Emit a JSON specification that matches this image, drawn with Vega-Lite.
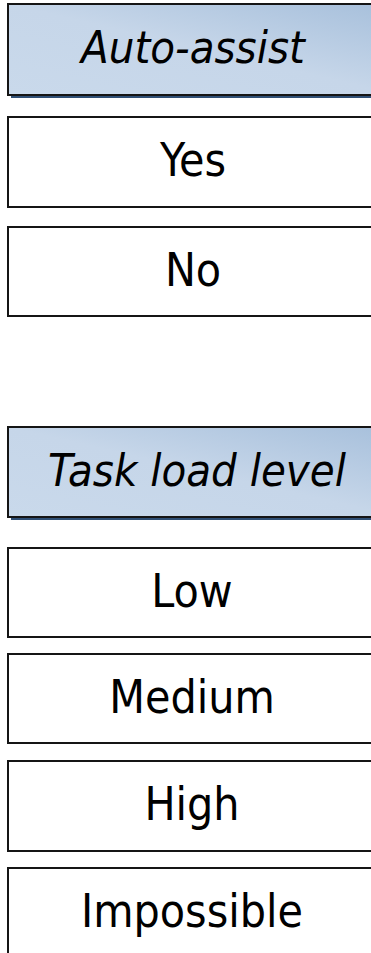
{
  "$schema": "https://vega.github.io/schema/vega-lite/v6.json",
  "autosize": {"type": "fit", "contains": "padding"},
  "width": 371,
  "height": 953,
  "padding": 0,
  "background": "white",
  "config": {"view": {"stroke": null}},
  "data": {"values": [
    {"label": "Auto-assist", "kind": "header", "top": 4, "bottom": 95, "mid": 49, "left": 8, "right": 400, "cx": 193},
    {"label": "Yes", "kind": "item", "top": 117, "bottom": 207, "mid": 162, "left": 8, "right": 400, "cx": 193},
    {"label": "No", "kind": "item", "top": 227, "bottom": 316, "mid": 271.5, "left": 8, "right": 400, "cx": 193},
    {"label": "Task load level", "kind": "header", "top": 427, "bottom": 517, "mid": 472, "left": 8, "right": 400, "cx": 197},
    {"label": "Low", "kind": "item", "top": 548, "bottom": 637, "mid": 592.5, "left": 8, "right": 400, "cx": 192},
    {"label": "Medium", "kind": "item", "top": 654, "bottom": 743, "mid": 698.5, "left": 8, "right": 400, "cx": 192},
    {"label": "High", "kind": "item", "top": 761, "bottom": 851, "mid": 806, "left": 8, "right": 400, "cx": 192},
    {"label": "Impossible", "kind": "item", "top": 868, "bottom": 958, "mid": 913, "left": 8, "right": 400, "cx": 192}
  ]},
  "encoding": {
    "x": {"field": "left", "type": "quantitative", "scale": {"domain": [0, 371], "nice": false, "zero": false}, "axis": null},
    "y": {"field": "top", "type": "quantitative", "scale": {"domain": [0, 953], "reverse": true, "nice": false, "zero": false}, "axis": null}
  },
  "layer": [
    {
      "transform": [{"filter": "datum.kind === 'header'"}],
      "mark": {"type": "rect", "clip": true, "color": "#2f4f75", "xOffset": 3, "yOffset": 3, "x2Offset": 3, "y2Offset": 3},
      "encoding": {"x2": {"field": "right"}, "y2": {"field": "bottom"}}
    },
    {
      "transform": [{"filter": "datum.kind === 'header'"}],
      "mark": {"type": "rect", "clip": true, "stroke": "#151515", "strokeWidth": 2,
        "fill": {"gradient": "linear", "x1": 0, "y1": 1, "x2": 1, "y2": 0,
          "stops": [{"offset": 0, "color": "#c9d9eb"}, {"offset": 0.5, "color": "#c6d6e9"}, {"offset": 1, "color": "#a6bfdb"}]}},
      "encoding": {"x2": {"field": "right"}, "y2": {"field": "bottom"}}
    },
    {
      "transform": [{"filter": "datum.kind === 'item'"}],
      "mark": {"type": "rect", "clip": true, "fill": "white", "stroke": "#151515", "strokeWidth": 2},
      "encoding": {"x2": {"field": "right"}, "y2": {"field": "bottom"}}
    },
    {
      "transform": [{"filter": "datum.kind === 'header'"}],
      "mark": {"type": "text", "font": "DejaVu Sans Condensed", "fontStyle": "italic", "fontSize": 45, "color": "black", "align": "center", "baseline": "middle"},
      "encoding": {
        "x": {"field": "cx", "type": "quantitative"},
        "y": {"field": "mid", "type": "quantitative"},
        "text": {"field": "label"}
      }
    },
    {
      "transform": [{"filter": "datum.kind === 'item'"}],
      "mark": {"type": "text", "font": "DejaVu Sans Condensed", "fontSize": 46, "color": "black", "align": "center", "baseline": "middle"},
      "encoding": {
        "x": {"field": "cx", "type": "quantitative"},
        "y": {"field": "mid", "type": "quantitative"},
        "text": {"field": "label"}
      }
    }
  ]
}
